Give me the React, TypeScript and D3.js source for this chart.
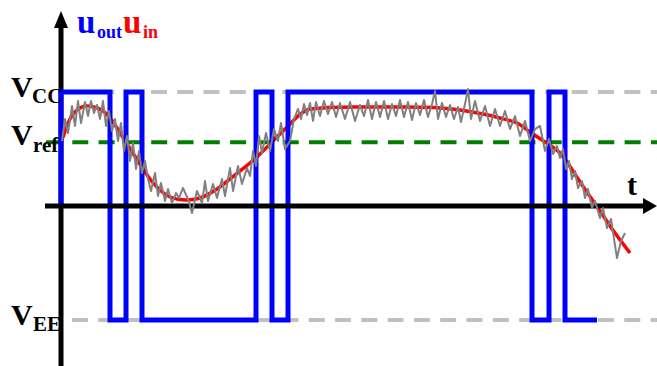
import React from "react";
import * as d3 from "d3";

// ---- data ----
const VCC = 10;
const VEE = -10;
const VREF = 5.6;

// smooth input signal u_in (t in ms, u in V)
const redT = [0.5, 2.25, 4.0, 6.0, 8.25, 10.5, 12.25, 14.0, 16.5, 19.75, 22.25, 24.75, 27.25, 31.0, 34.75, 39.0, 42.25, 44.75, 47.25, 49.75, 53.0, 55.25, 57.25, 59.25, 61.5, 65.5, 74.75, 84.75, 94.75, 99.75, 105.5, 109.75, 114.0, 117.25, 121.0, 124.75, 129.75, 134.75, 138.5, 142.25];
const redU = [6.0, 7.63, 8.42, 8.77, 8.68, 8.33, 7.72, 6.84, 5.44, 3.68, 2.37, 1.4, 0.79, 0.53, 0.7, 1.49, 2.37, 3.07, 3.77, 4.56, 5.7, 6.49, 7.19, 7.89, 8.42, 8.6, 8.68, 8.68, 8.6, 8.42, 8.07, 7.72, 7.28, 6.49, 5.61, 4.65, 2.11, -0.44, -2.37, -4.12];

// noisy input signal
const grayT = [0.25, 1.0, 1.75, 2.75, 3.5, 4.25, 5.0, 6.0, 6.75, 7.5, 8.25, 9.0, 9.75, 10.5, 11.25, 12.0, 12.75, 13.5, 14.25, 15.0, 15.75, 16.5, 17.25, 18.0, 18.75, 19.5, 20.25, 21.0, 21.75, 22.5, 23.5, 24.25, 25.0, 26.0, 26.75, 27.75, 28.75, 29.5, 30.5, 31.75, 32.75, 34.0, 35.25, 36.0, 36.75, 38.0, 39.0, 40.25, 41.0, 42.25, 43.0, 44.25, 45.25, 46.5, 47.25, 48.0, 48.75, 49.5, 50.25, 51.25, 52.25, 53.25, 54.25, 55.0, 56.0, 57.25, 58.25, 59.25, 60.0, 60.75, 61.5, 62.25, 63.0, 63.75, 64.75, 65.75, 66.75, 67.75, 68.75, 69.75, 71.0, 72.25, 73.5, 74.75, 75.75, 76.75, 77.75, 78.75, 79.75, 80.75, 81.75, 82.75, 83.75, 84.75, 85.75, 86.75, 87.75, 88.75, 89.75, 90.75, 91.75, 92.75, 93.5, 94.25, 95.25, 96.25, 97.25, 98.25, 99.25, 100.0, 101.0, 101.75, 102.5, 103.5, 104.75, 106.0, 107.25, 108.5, 109.75, 111.0, 112.25, 113.5, 114.75, 116.0, 117.25, 118.5, 119.75, 121.0, 122.0, 123.0, 124.0, 124.75, 125.5, 126.25, 127.0, 127.75, 128.5, 129.25, 130.25, 131.0, 131.75, 132.75, 133.5, 134.75, 135.5, 136.5, 137.5, 138.25, 139.0, 140.0, 141.0];
const grayU = [5.7, 7.63, 6.4, 8.77, 7.02, 9.21, 7.28, 9.12, 7.89, 9.21, 8.16, 8.86, 7.63, 9.21, 7.02, 8.33, 6.58, 7.63, 5.7, 7.28, 4.82, 6.14, 3.95, 5.53, 3.25, 4.82, 2.89, 3.95, 2.37, 1.32, 2.89, 0.88, 2.02, 0.44, 1.49, 0.26, 1.14, 0.7, 1.58, 0.61, -0.61, 1.32, 0.26, 2.19, 0.44, 1.93, 0.7, 2.37, 0.88, 3.33, 1.32, 3.51, 1.93, 3.33, 2.63, 4.82, 3.51, 6.14, 4.65, 6.4, 4.82, 6.75, 5.7, 7.28, 5.0, 5.7, 7.63, 8.51, 7.63, 8.95, 7.98, 9.04, 7.46, 9.12, 7.89, 9.21, 8.07, 9.12, 7.81, 9.04, 7.63, 9.12, 7.46, 8.86, 7.89, 9.3, 7.63, 9.12, 7.81, 9.21, 7.63, 8.95, 7.89, 9.3, 7.81, 9.12, 7.54, 9.04, 7.98, 9.3, 7.81, 8.95, 10.09, 7.63, 9.04, 7.81, 8.86, 7.63, 8.68, 7.37, 8.95, 10.26, 7.63, 9.21, 7.46, 8.77, 7.02, 8.51, 7.02, 8.33, 6.75, 7.89, 6.14, 7.46, 5.7, 6.75, 7.02, 4.82, 5.88, 4.56, 5.26, 4.21, 5.0, 3.25, 3.95, 2.37, 3.07, 1.58, 2.19, 0.7, 1.49, -0.18, 0.44, -1.05, -0.18, -1.93, -1.14, -2.89, -4.56, -3.07, -2.37];

// comparator output u_out: switching instants (ms)
const switchTimes = [12.25, 16.25, 20.25, 48.75, 52.75, 56.75, 117.75, 122.0, 126.0];
const outEnd = 134;

const W = 657;
const H = 366;

export default function App() {
  const x = d3.scaleLinear().domain([0, 149]).range([61, 657]);
  const y = d3.scaleLinear().domain([VEE, VCC]).range([320, 92]);

  const line = d3
    .line<[number, number]>()
    .x((d) => x(d[0]))
    .y((d) => y(d[1]));

  const redPts: [number, number][] = redT.map((t, i) => [t, redU[i]]);
  const grayPts: [number, number][] = grayT.map((t, i) => [t, grayU[i]]);

  const bluePts: [number, number][] = [[0, 0], [0, VCC]];
  let level = VCC;
  for (const s of switchTimes) {
    bluePts.push([s, level]);
    level = level === VCC ? VEE : VCC;
    bluePts.push([s, level]);
  }
  bluePts.push([outEnd, level]);

  const redPath = d3
    .line<[number, number]>()
    .x((d) => x(d[0]))
    .y((d) => y(d[1]))
    .curve(d3.curveCatmullRom)(redPts);

  const x0 = x(0);
  const y0 = y(0);
  const font = "'Liberation Serif', 'Times New Roman', serif";
  const dash = "16 10.3";

  return (
    <svg
      width={W}
      height={H}
      style={{ position: "fixed", left: 0, top: 0, background: "#fff" }}
    >
      {/* reference levels */}
      <line x1={72} x2={W} y1={y(VCC)} y2={y(VCC)} stroke="#c0c0c0" strokeWidth={4} strokeDasharray={dash} />
      <line x1={72} x2={W} y1={y(VEE)} y2={y(VEE)} stroke="#c0c0c0" strokeWidth={4} strokeDasharray={dash} />
      <line x1={46} x2={W} y1={y(VREF)} y2={y(VREF)} stroke="#008000" strokeWidth={4} strokeDasharray={dash} />

      {/* vertical axis */}
      <line x1={x0} x2={x0} y1={H} y2={26} stroke="#000" strokeWidth={5} />
      <polygon points={`${x0},11 ${x0 - 7},28 ${x0 + 7},28`} fill="#000" />

      {/* u_in smooth */}
      <path d={redPath || ""} fill="none" stroke="#ff0000" strokeWidth={3.5} />

      {/* u_out */}
      <path d={line(bluePts) || ""} fill="none" stroke="#0000ff" strokeWidth={5} strokeLinejoin="miter" />

      {/* horizontal axis */}
      <line x1={45} x2={645} y1={y0} y2={y0} stroke="#000" strokeWidth={5} />
      <polygon points={`${W},${y0} ${643},${y0 - 8} ${643},${y0 + 8}`} fill="#000" />

      {/* noisy u_in */}
      <path d={line(grayPts) || ""} fill="none" stroke="#808080" strokeWidth={2} strokeLinejoin="round" />

      {/* labels */}
      <g fontFamily={font} fontWeight="bold">
        <text x={77} y={33} fontSize={33} fill="#0000ff">u</text>
        <text x={97} y={38} fontSize={18} fill="#0000ff">out</text>
        <text x={123} y={33} fontSize={33} fill="#ff0000">u</text>
        <text x={143} y={38} fontSize={18} fill="#ff0000">in</text>

        <text x={11} y={97} fontSize={30} fill="#000">V</text>
        <text x={32} y={103} fontSize={21} fill="#000">CC</text>

        <text x={11} y={145} fontSize={30} fill="#000">V</text>
        <text x={33} y={152} fontSize={21} fill="#000">ref</text>

        <text x={11} y={325} fontSize={30} fill="#000">V</text>
        <text x={33} y={331} fontSize={21} fill="#000">EE</text>

        <text x={627} y={195} fontSize={30} fill="#000">t</text>
      </g>
    </svg>
  );
}
